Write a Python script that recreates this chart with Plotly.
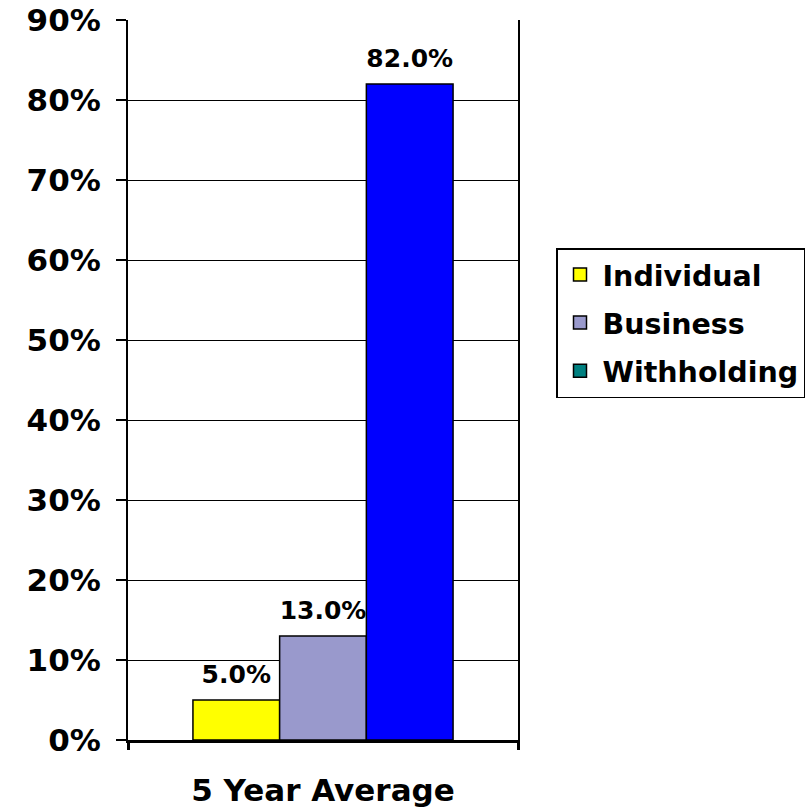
import plotly.graph_objects as go

categories = ["5 Year Average"]
series_names = ["Individual", "Business", "Withholding"]
series_values = [[0.05], [0.13], [0.82]]
bar_colors = ["#FFFF00", "#9999CC", "#0000FF"]
legend_colors = ["#FFFF00", "#9999CC", "#008080"]
y_ticks = [0, 0.1, 0.2, 0.3, 0.4, 0.5, 0.6, 0.7, 0.8, 0.9]

FONT = "DejaVu Sans"

fig = go.Figure()
for name, vals, col in zip(series_names, series_values, bar_colors):
    fig.add_trace(go.Bar(
        x=categories, y=vals, name=name, showlegend=False,
        marker=dict(color=col, line=dict(color="black", width=1.5)),
        texttemplate="<span style='font-size:25px'>%{y:.1%}</span><br>\u00a0",
        textposition="outside", cliponaxis=False,
        textfont=dict(family=FONT, size=9, color="black", weight="bold"),
    ))
for name, col in zip(series_names, legend_colors):
    fig.add_trace(go.Scatter(
        x=[None], y=[None], mode="markers", name=name, legendgroup=name,
        marker=dict(symbol="square", size=13, color=col,
                    line=dict(color="black", width=1.5)),
    ))

fig.update_layout(
    width=808, height=807,
    margin=dict(l=128, r=290, t=20, b=67),
    paper_bgcolor="white", plot_bgcolor="white",
    barmode="group", bargap=0.333, bargroupgap=0,
    font=dict(family=FONT, color="black"),
    legend=dict(
        xref="container", yref="container",
        x=556 / 808, y=1 - 248 / 807, xanchor="left", yanchor="top",
        bordercolor="black", borderwidth=1.5, bgcolor="white",
        font=dict(family=FONT, size=28.5, color="black", weight="bold"),
        tracegroupgap=8, itemsizing="trace", itemwidth=35,
    ),
    showlegend=True,
)
fig.update_yaxes(
    range=[0, 0.9], tickvals=y_ticks, tickformat=".0%", automargin=False,
    showgrid=True, gridcolor="black", gridwidth=1,
    showline=True, linecolor="black", linewidth=2, mirror=True,
    ticks="outside", ticklen=10, tickcolor="black", tickwidth=1.5,
    tickfont=dict(family=FONT, size=31, color="black", weight="bold"),
    ticklabelstandoff=9, zeroline=False,
)
fig.update_xaxes(
    automargin=False,
    showline=True, linecolor="black", linewidth=3,
    ticks="outside", tickson="boundaries", ticklen=7, tickwidth=3, tickcolor="black",
    tickfont=dict(family=FONT, size=31, color="black", weight="bold"),
    ticklabelstandoff=21, showgrid=False,
)

fig.write_html("out.html")
